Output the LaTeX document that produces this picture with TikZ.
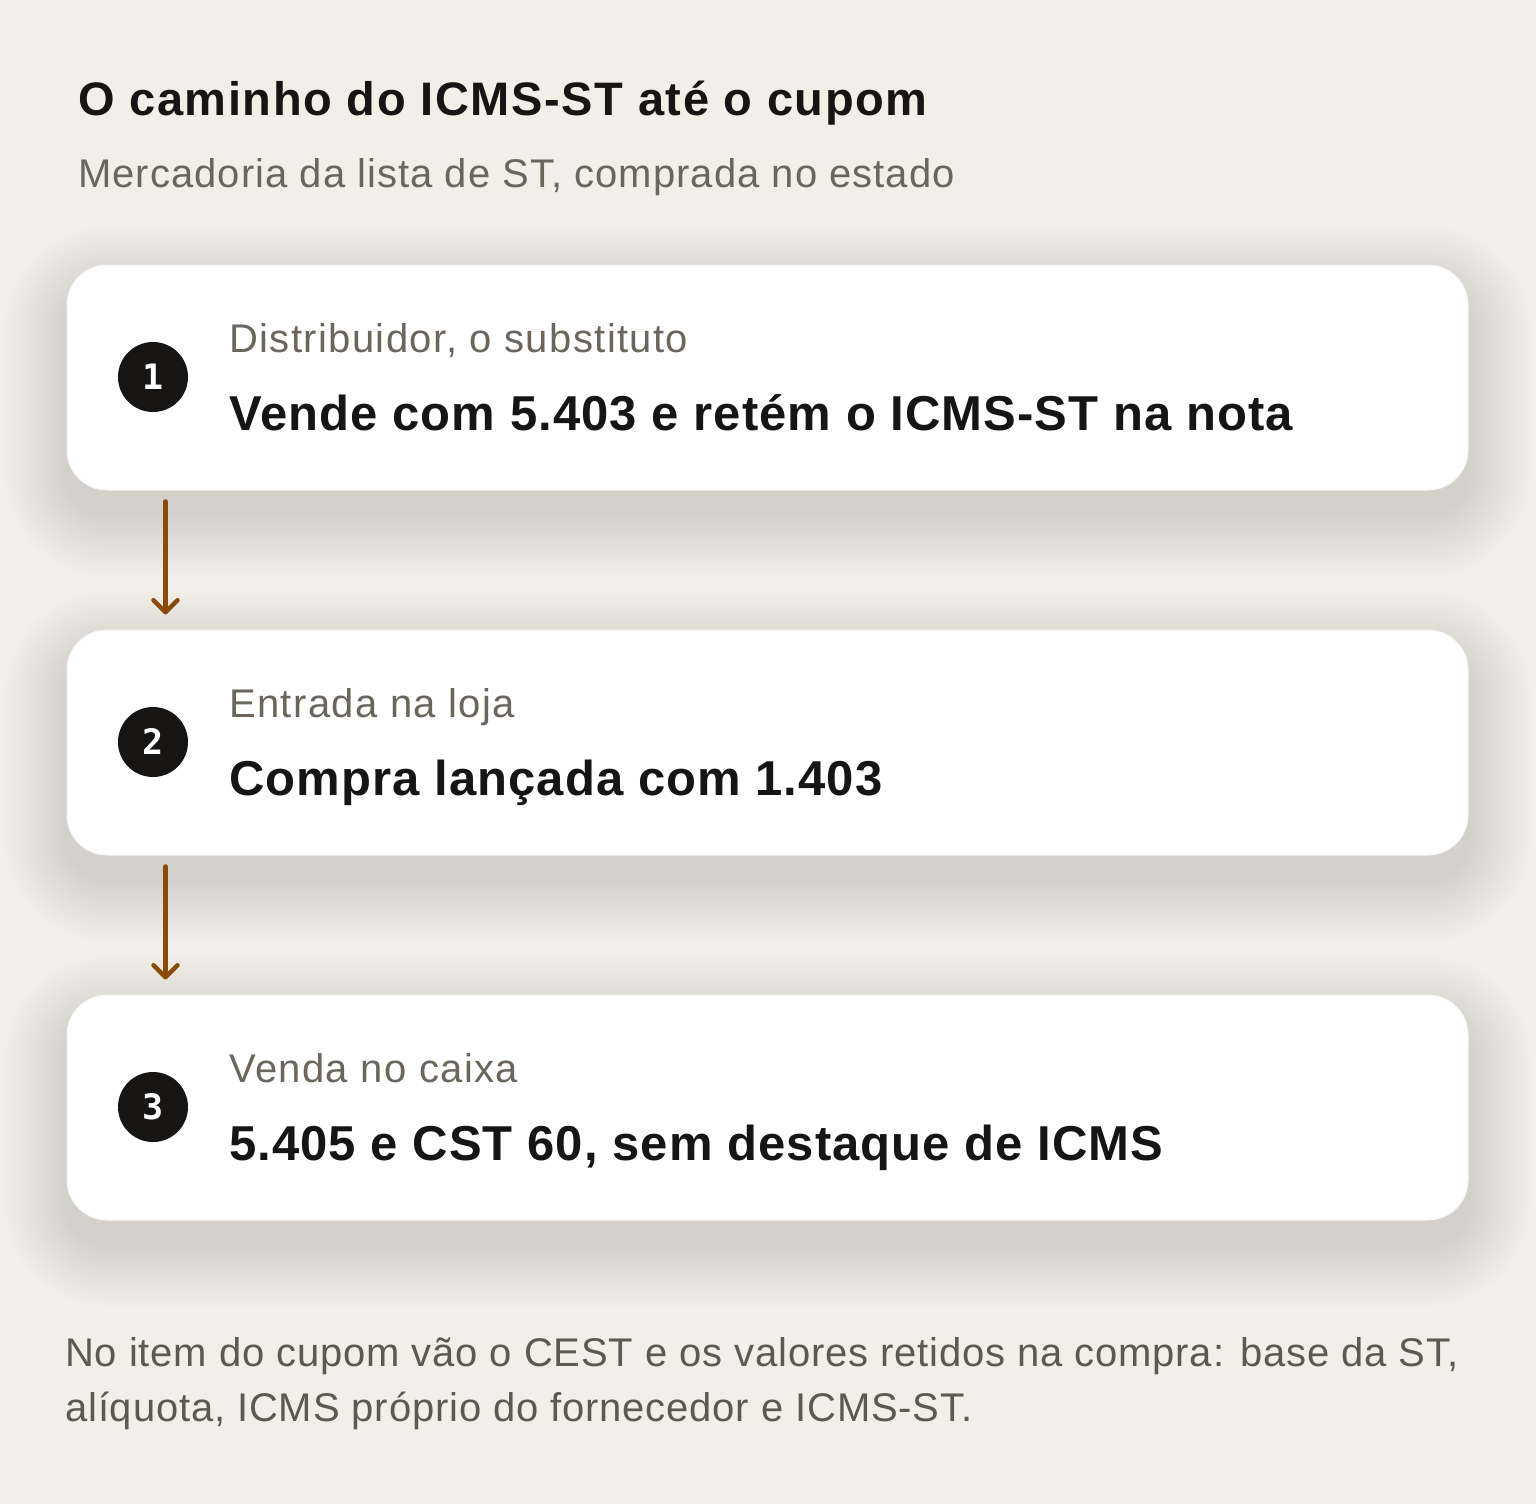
\documentclass[tikz,border=0pt]{standalone}
\usepackage{fontspec}
\setmainfont{Liberation Sans}
\newfontfamily\numfont{DejaVu Sans Mono}
\usetikzlibrary{arrows.meta,calc}
\definecolor{bgc}{HTML}{F2EFE9}
\definecolor{ink}{HTML}{161513}
\definecolor{graytext}{HTML}{6B655C}
\definecolor{foottext}{HTML}{5E5850}
\definecolor{arrowc}{HTML}{8A4B08}
\tikzset{
  card/.style={fill=white, draw=black!4, line width=1pt, rounded corners=40pt, minimum width=1401pt, minimum height=225pt, inner sep=0pt},
  numc/.style={circle, fill=ink, text=white, minimum size=70pt, inner sep=0pt, font=\numfont\bfseries\fontsize{35}{35}\selectfont},
  lab/.style={anchor=base west, inner sep=0pt, text=graytext, font=\fontsize{40}{44}\selectfont\addfontfeature{LetterSpace=3.5}},
  mainline/.style={anchor=base west, inner sep=0pt, text=ink, font=\bfseries\fontsize{49}{54}\selectfont\addfontfeature{LetterSpace=2.2}},
  foot/.style={anchor=base west, inner sep=0pt, text=foottext, font=\fontsize{40}{44}\selectfont\addfontfeature{LetterSpace=2.1}},
  arr/.style={draw=arrowc, line width=4.5pt, line cap=round, -{Straight Barb[length=12pt,width=24pt,line width=4.5pt,round]}},
}
\newcommand{\cardshadow}[1]{%
  \foreach \i in {1,...,30}{%
    \fill[black, opacity=0.003, rounded corners={40pt+\i*2.1pt}]
      (67-\i*2.1, #1-112.5+24-\i*2.1) rectangle (1468+\i*2.1, #1+112.5+24+\i*2.1);
  }%
}
\begin{document}
\begin{tikzpicture}[x=1pt,y=-1pt]
\fill[bgc] (0,0) rectangle (1536,1504);
\useasboundingbox (0,0) rectangle (1536,1504);

\node[anchor=base west, inner sep=0pt, text=ink, font=\bfseries\fontsize{47}{52}\selectfont\addfontfeature{LetterSpace=3.4}] (title) at (78,115) {O caminho do ICMS-ST até o cupom};
\node[anchor=base west, inner sep=0pt, text=graytext, font=\fontsize{40}{44}\selectfont\addfontfeature{LetterSpace=2.6}] (sub) at (78,187) {Mercadoria da lista de ST, comprada no estado};

\cardshadow{377.5}
\cardshadow{742.5}
\cardshadow{1107.5}

\node[card] (c1) at (767.5,377.5) {};
\node[card] (c2) at (767.5,742.5) {};
\node[card] (c3) at (767.5,1107.5) {};

\node[numc] (n1) at (153,377) {1};
\node[numc] (n2) at (153,742) {2};
\node[numc] (n3) at (153,1107) {3};

\node[lab] (l1) at (229,352) {Distribuidor, o substituto};
\node[mainline] (m1) at (229,430) {Vende com 5.403 e retém o ICMS-ST na nota};
\node[lab] (l2) at (229,717) {Entrada na loja};
\node[mainline] (m2) at (229,795) {Compra lançada com 1.403};
\node[lab] (l3) at (229,1082) {Venda no caixa};
\node[mainline] (m3) at (229,1160) {5.405 e CST 60, sem destaque de ICMS};

\draw[arr] ($(c1.south west)+(99,11)$) -- ($(c2.north west)+(99,-15)$);
\draw[arr] ($(c2.south west)+(99,11)$) -- ($(c3.north west)+(99,-15)$);

\node[foot] (f1) at (65,1366) {No item do cupom vão o CEST e os valores retidos na compra: base da ST,};
\node[foot] (f2) at (65,1421) {alíquota, ICMS próprio do fornecedor e ICMS-ST.};
\end{tikzpicture}
\end{document}
